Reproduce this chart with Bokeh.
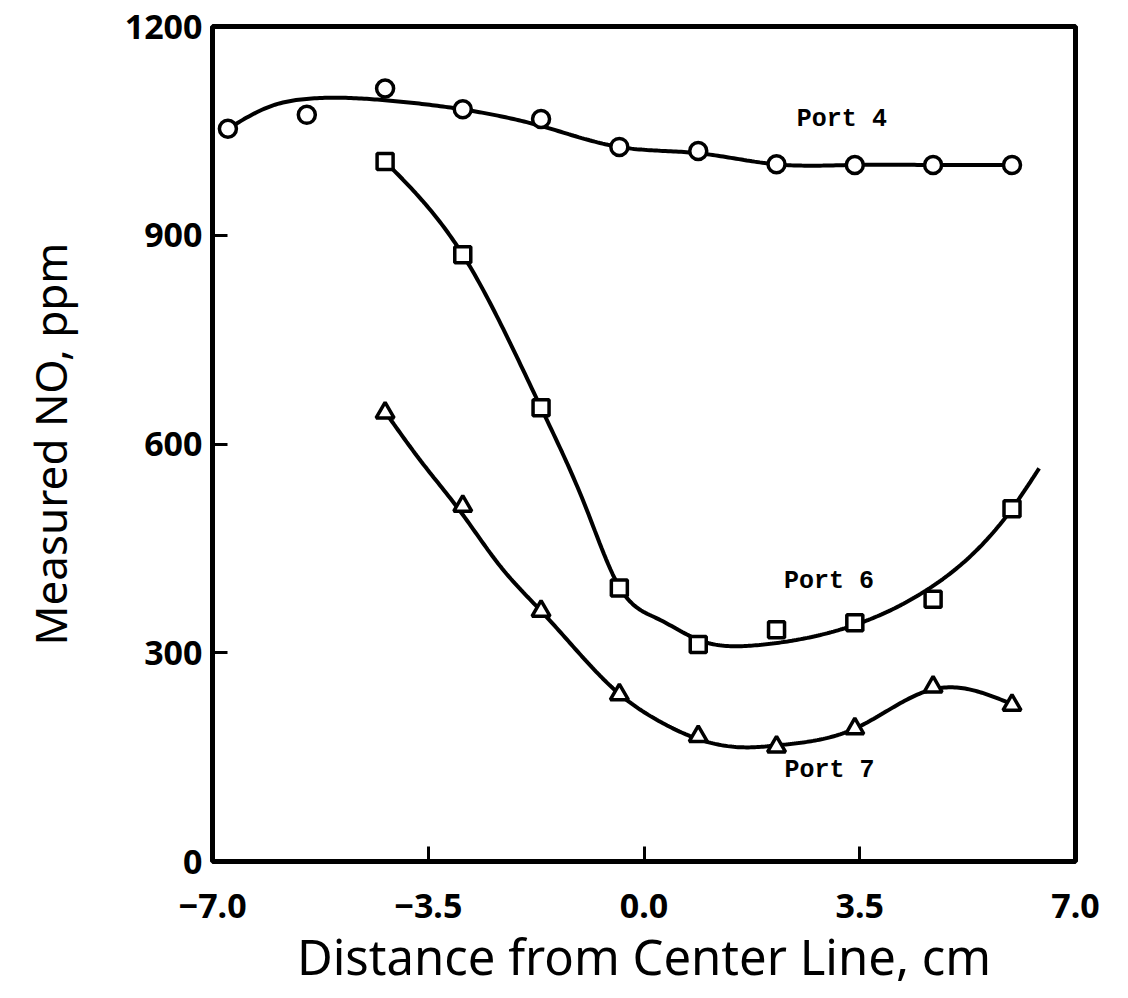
import numpy as np
from bokeh.plotting import figure
from bokeh.models import FixedTicker, Range1d, ColumnDataSource
from bokeh.embed import file_html
from bokeh.resources import INLINE
from bokeh.core.properties import value

# Probe positions across the duct (cm from center line)
positions = [-6.75, -5.47, -4.20, -2.94, -1.67, -0.40, 0.88, 2.15, 3.42, 4.69, 5.97]

# Measured NO (ppm) at each sampling port
port4_no = [1053, 1073, 1111, 1081, 1067, 1027, 1021, 1002, 1001, 1001, 1001]
port6_x = [-4.20, -2.94, -1.67, -0.40, 0.88, 2.15, 3.42, 4.69, 5.97]
port6_no = [1006, 872, 652, 393, 312, 333, 343, 377, 507]
port7_x = [-4.20, -2.94, -1.67, -0.40, 0.88, 2.15, 3.42, 4.69, 5.97]
port7_no = [645, 511, 360, 240, 180, 165, 191, 251, 225]

# Knots of the hand-faired trend curves
port4_curve_x = [-6.75, -6.07, -5.47, -4.20, -2.95, -1.67, -0.41, 0.87, 2.14, 3.40, 4.68, 5.96]
port4_curve_y = [1053, 1085, 1096, 1094, 1081, 1057, 1027, 1018, 1002, 1001, 1001, 1001]
port6_curve_x = [-4.20, -2.94, -1.67, -0.94, -0.39, 0.22, 0.90, 1.84, 3.42, 4.62, 5.97, 6.41]
port6_curve_y = [1006, 872, 652, 508, 393, 349, 318, 311, 340, 392, 507, 565]
port7_curve_x = [-4.19, -3.59, -2.97, -2.32, -1.67, -1.10, -0.39, 0.24, 0.91, 1.64, 2.16, 3.42, 4.07, 4.59, 5.08, 5.92]
port7_curve_y = [645, 572, 502, 423, 360, 304, 240, 202, 175, 164, 167, 191, 223, 245, 250, 228]

# Curve labels
label_x = [3.21, 3.00, 3.01]
label_y = [1066, 402, 131]
label_text = ["Port 4", "Port 6", "Port 7"]

x_ticks = [-7.0, -3.5, 0.0, 3.5, 7.0]
x_tick_labels = ["\u22127.0", "\u22123.5", "0.0", "3.5", "7.0"]
y_ticks = [0, 300, 600, 900, 1200]


def natural_spline(xk, yk, n=300):
    """Natural cubic spline through the knots, sampled densely."""
    xk = np.asarray(xk, float)
    yk = np.asarray(yk, float)
    k = len(xk)
    h = np.diff(xk)
    A = np.zeros((k, k))
    b = np.zeros(k)
    A[0, 0] = A[-1, -1] = 1.0
    for i in range(1, k - 1):
        A[i, i - 1] = h[i - 1]
        A[i, i] = 2 * (h[i - 1] + h[i])
        A[i, i + 1] = h[i]
        b[i] = 6 * ((yk[i + 1] - yk[i]) / h[i] - (yk[i] - yk[i - 1]) / h[i - 1])
    M = np.linalg.solve(A, b)
    xs = np.linspace(xk[0], xk[-1], n)
    idx = np.clip(np.searchsorted(xk, xs) - 1, 0, k - 2)
    x0, x1 = xk[idx], xk[idx + 1]
    hh = x1 - x0
    t0, t1 = x1 - xs, xs - x0
    ys = (M[idx] * t0 ** 3 + M[idx + 1] * t1 ** 3) / (6 * hh) \
        + (yk[idx] / hh - M[idx] * hh / 6) * t0 \
        + (yk[idx + 1] / hh - M[idx + 1] * hh / 6) * t1
    return xs, ys


p = figure(width=1128, height=998,
           x_range=Range1d(-7, 7), y_range=Range1d(0, 1200),
           output_backend="svg", toolbar_location=None,
           min_border_left=212, min_border_right=53,
           min_border_top=26, min_border_bottom=137)

p.background_fill_color = "white"
p.border_fill_color = "white"
p.grid.visible = False
p.outline_line_color = "black"
p.outline_line_width = 5

for ax in (p.xaxis[0], p.yaxis[0]):
    ax.axis_line_color = None
    ax.major_tick_in = 15
    ax.major_tick_out = 0
    ax.major_tick_line_width = 3
    ax.major_tick_line_color = "black"
    ax.minor_tick_line_color = None
    ax.major_label_text_font = "Noto Sans"
    ax.major_label_text_font_size = "34px"
    ax.major_label_text_font_style = "bold"
    ax.major_label_text_color = "black"
    ax.axis_label_text_font = "Noto Sans"
    ax.axis_label_text_font_style = "normal"
    ax.axis_label_text_color = "black"

p.xaxis.ticker = FixedTicker(ticks=x_ticks)
p.xaxis.major_label_overrides = {t: s for t, s in zip(x_ticks, x_tick_labels)}
p.xaxis.major_label_standoff = 32
p.xaxis.axis_label = "Distance from Center Line, cm"
p.xaxis.axis_label_text_font_size = "49px"
p.xaxis.axis_label_standoff = 2

p.yaxis.ticker = FixedTicker(ticks=y_ticks)
p.yaxis.major_label_standoff = 10
p.yaxis.axis_label = "Measured NO, ppm"
p.yaxis.axis_label_text_font_size = "44px"
p.yaxis.axis_label_standoff = 42

# Trend curves
for cx, cy in ((port4_curve_x, port4_curve_y),
               (port6_curve_x, port6_curve_y),
               (port7_curve_x, port7_curve_y)):
    xs, ys = natural_spline(cx, cy)
    p.line(xs, ys, line_color="black", line_width=4)

# Data markers
p.scatter(positions, port4_no, marker="circle", size=17,
          fill_color="white", line_color="black", line_width=3.5)
p.scatter(port6_x, port6_no, marker="square", size=16,
          fill_color="white", line_color="black", line_width=3.5)
p.scatter(port7_x, port7_no, marker="triangle", size=18,
          fill_color="white", line_color="black", line_width=3.5)

labels = ColumnDataSource(dict(x=label_x, y=label_y, text=label_text))
p.text(x="x", y="y", text="text", source=labels,
       text_font=value("Liberation Mono"), text_font_size="25px",
       text_font_style="bold",
       text_align="center", text_baseline="middle", text_color="black")

open("out.html", "w").write(file_html(p, INLINE))
